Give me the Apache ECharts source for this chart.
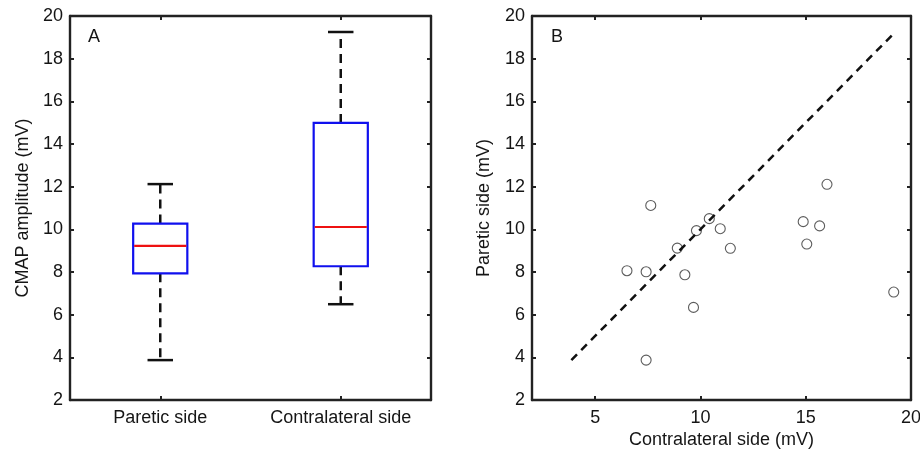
<!DOCTYPE html>
<html>
<head>
<meta charset="utf-8">
<script src="https://cdn.jsdelivr.net/npm/echarts@6/dist/echarts.min.js"></script>
<style>html,body{margin:0;padding:0;background:#fff;}#chart{width:920px;height:451px;}</style>
</head>
<body>
<div id="chart"></div>
<script>
// ---- data ----
const categories = ['Paretic side', 'Contralateral side'];
const boxMin    = [3.87, 6.49];
const boxQ1     = [7.94, 8.27];
const boxMedian = [9.22, 10.11];
const boxQ3     = [10.27, 14.99];
const boxMax    = [12.12, 19.25];

const contralateralSide = [7.64, 16.01, 10.42, 9.81, 10.94, 8.90, 11.42, 14.88, 15.66, 15.05, 6.51, 7.42, 9.26, 9.67, 7.42, 19.18];
const pareticSide       = [11.12, 12.11, 10.50, 9.94, 10.03, 9.12, 9.11, 10.36, 10.16, 9.31, 8.06, 8.01, 7.87, 6.34, 3.87, 7.06];

const identityLine = [3.87, 19.25];

const yTicks = { min: 2, max: 20, interval: 2 };
const xScatterTicks = [5, 10, 15, 20];
// --------------------------------------

const FONT = 'Liberation Sans, Arial, sans-serif';
const AX = '#222';
const TXT = '#151515';
const AXW = 2.4;
const boxData = categories.map((c, i) => [i, boxMin[i], boxQ1[i], boxMedian[i], boxQ3[i], boxMax[i]]);
const scatterData = contralateralSide.map((v, i) => [v, pareticSide[i]]);
const lineData = identityLine.map(v => [v, v]);

function valueAxisBase(extra) {
  return Object.assign({
    type: 'value', min: yTicks.min, max: yTicks.max, interval: yTicks.interval,
    axisLine: { show: true, lineStyle: { color: AX, width: AXW } },
    axisTick: { show: true, inside: true, length: 4, lineStyle: { color: AX, width: 2 } },
    axisLabel: { color: TXT, fontSize: 18, fontFamily: FONT, margin: 7 },
    splitLine: { show: false }
  }, extra);
}

const option = {
  backgroundColor: '#fff',
  animation: false,
  grid: [
    { left: 70, top: 16, width: 361, height: 384, outerBoundsMode: 'none', containLabel: false },
    { left: 532, top: 16, width: 379, height: 384, outerBoundsMode: 'none', containLabel: false }
  ],
  xAxis: [
    {
      type: 'category', gridIndex: 0, position: 'bottom', data: categories,
      axisLine: { show: true, lineStyle: { color: AX, width: AXW } },
      axisTick: { show: true, inside: true, alignWithLabel: true, length: 4, lineStyle: { color: AX, width: 2 } },
      axisLabel: { color: TXT, fontSize: 18, fontFamily: FONT, margin: 9, interval: 0, hideOverlap: false },
      splitLine: { show: false }
    },
    {
      type: 'category', gridIndex: 0, position: 'top', data: categories,
      axisLine: { show: true, lineStyle: { color: AX, width: AXW } },
      axisTick: { show: true, inside: true, alignWithLabel: true, length: 4, lineStyle: { color: AX, width: 2 } },
      axisLabel: { show: false }, splitLine: { show: false }
    },
    valueAxisBase({
      gridIndex: 1, position: 'bottom', min: 2, max: 20, interval: 1,
      axisTick: { show: true, inside: true, length: 4, customValues: xScatterTicks, lineStyle: { color: AX, width: 2 } },
      axisLabel: { color: TXT, fontSize: 18, fontFamily: FONT, margin: 9, customValues: xScatterTicks },
      name: 'Contralateral side (mV)', nameLocation: 'middle', nameGap: 31, nameMoveOverlap: false,
      nameTextStyle: { color: TXT, fontSize: 18, fontFamily: FONT }
    }),
    valueAxisBase({
      gridIndex: 1, position: 'top', min: 2, max: 20, interval: 1,
      axisTick: { show: true, inside: true, length: 4, customValues: xScatterTicks, lineStyle: { color: AX, width: 2 } },
      axisLabel: { show: false }
    })
  ],
  yAxis: [
    valueAxisBase({
      gridIndex: 0, position: 'left',
      name: 'CMAP amplitude (mV)', nameLocation: 'middle', nameGap: 38, nameMoveOverlap: false,
      nameTextStyle: { color: TXT, fontSize: 18, fontFamily: FONT }
    }),
    valueAxisBase({ gridIndex: 0, position: 'right', axisLabel: { show: false } }),
    valueAxisBase({
      gridIndex: 1, position: 'left',
      name: 'Paretic side (mV)', nameLocation: 'middle', nameGap: 39, nameMoveOverlap: false,
      nameTextStyle: { color: TXT, fontSize: 18, fontFamily: FONT }
    }),
    valueAxisBase({ gridIndex: 1, position: 'right', axisLabel: { show: false } })
  ],
  graphic: [
    { type: 'text', left: 88, top: 28, style: { text: 'A', fontSize: 18, fontFamily: FONT, fill: TXT } },
    { type: 'text', left: 551, top: 28, style: { text: 'B', fontSize: 18, fontFamily: FONT, fill: TXT } }
  ],
  series: [
    {
      type: 'custom', xAxisIndex: 0, yAxisIndex: 0, data: boxData,
      renderItem: function (params, api) {
        const idx = api.value(0);
        const pMin = api.coord([idx, api.value(1)]);
        const pQ1 = api.coord([idx, api.value(2)]);
        const pMed = api.coord([idx, api.value(3)]);
        const pQ3 = api.coord([idx, api.value(4)]);
        const pMax = api.coord([idx, api.value(5)]);
        const bandW = api.size([1, 0])[0];
        const bw = bandW * 0.30;
        const cw = bw * 0.47;
        const cx = pMed[0];
        const dash = { stroke: '#111', lineWidth: 2.5, lineDash: [9, 6] };
        const solid = { stroke: '#111', lineWidth: 2.5 };
        return {
          type: 'group',
          children: [
            { type: 'line', shape: { x1: cx, y1: pQ3[1], x2: cx, y2: pMax[1] }, style: dash },
            { type: 'line', shape: { x1: cx, y1: pQ1[1], x2: cx, y2: pMin[1] }, style: dash },
            { type: 'line', shape: { x1: cx - cw / 2, y1: pMax[1], x2: cx + cw / 2, y2: pMax[1] }, style: solid },
            { type: 'line', shape: { x1: cx - cw / 2, y1: pMin[1], x2: cx + cw / 2, y2: pMin[1] }, style: solid },
            { type: 'rect', shape: { x: cx - bw / 2, y: pQ3[1], width: bw, height: pQ1[1] - pQ3[1] },
              style: { fill: '#fff', stroke: '#1010ee', lineWidth: 2.2 } },
            { type: 'line', shape: { x1: cx - bw / 2 + 1, y1: pMed[1], x2: cx + bw / 2 - 1, y2: pMed[1] },
              style: { stroke: '#ee1111', lineWidth: 2.2 } }
          ]
        };
      }
    },
    {
      type: 'line', xAxisIndex: 2, yAxisIndex: 2, data: lineData, symbol: 'none',
      lineStyle: { color: '#111', width: 2.5, type: [8, 6] }
    },
    {
      type: 'scatter', xAxisIndex: 2, yAxisIndex: 2, data: scatterData,
      symbol: 'circle', symbolSize: 10,
      itemStyle: { color: 'rgba(255,255,255,0)', borderColor: '#333', borderWidth: 1.1 }
    }
  ]
};

const chart = echarts.init(document.getElementById('chart'), null, { renderer: 'canvas' });
chart.setOption(option);
</script>
</body>
</html>
